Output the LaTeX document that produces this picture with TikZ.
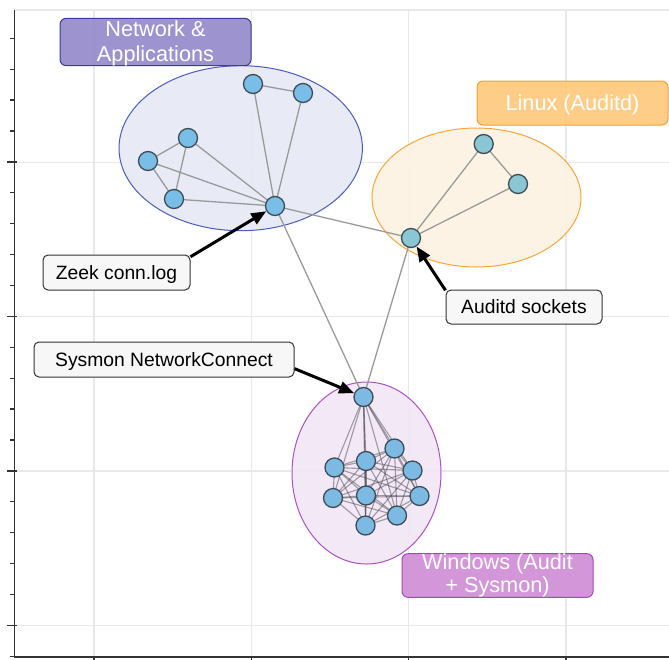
\documentclass[tikz,border=0pt]{standalone}
\usepackage{fontspec}
\setmainfont{Liberation Sans}
\usetikzlibrary{arrows.meta}
\definecolor{gridc}{HTML}{E9E9E9}
\definecolor{spinec}{HTML}{333333}
\definecolor{netell}{HTML}{E6E9F5}
\definecolor{netelld}{HTML}{4A5CC0}
\definecolor{linell}{HTML}{FDF2E2}
\definecolor{linelld}{HTML}{F7A73A}
\definecolor{winell}{HTML}{F2E6F5}
\definecolor{winelld}{HTML}{B050C6}
\definecolor{netlabf}{HTML}{958ACB}
\definecolor{netlabd}{HTML}{3C3C9C}
\definecolor{linlabf}{HTML}{FEC97E}
\definecolor{linlabd}{HTML}{F4A235}
\definecolor{winlabf}{HTML}{D08FD6}
\definecolor{winlabd}{HTML}{A845B8}
\definecolor{nodeb}{HTML}{79BEE6}
\definecolor{nodel}{HTML}{8AC6D3}
\definecolor{nodew}{HTML}{7CBAE3}
\definecolor{noded}{HTML}{3D4D58}
\definecolor{edgec}{HTML}{9A9A9A}
\definecolor{wedgec}{HTML}{4A4A55}
\definecolor{annf}{HTML}{F7F7F7}
\tikzset{
  gridline/.style={draw=gridc, line width=1.3pt},
  spine/.style={draw=spinec, line width=1.3pt},
  vert/.style={circle, minimum size=19pt, inner sep=0pt, draw=noded, line width=1.3pt},
  edge/.style={draw=edgec, line width=1.3pt},
  wedge/.style={draw=wedgec, line width=1.1pt, opacity=0.5},
  lab/.style={rounded corners=6pt, minimum width=191pt, minimum height=44pt, inner sep=0pt,
    align=center, text=white, fill opacity=0.92, text opacity=1, line width=1pt,
    font=\fontsize{21.7}{24.3}\selectfont},
  ann/.style={rounded corners=5pt, fill=annf, draw=spinec, line width=1pt, inner sep=0pt,
    minimum height=35pt, text height=17.5pt, text depth=4pt, font=\fontsize{19.3}{22}\selectfont},
  arr/.style={-{Triangle[length=15pt,width=12pt]}, line width=3pt, black},
}
\begin{document}
\begin{tikzpicture}[x=1pt,y=-1pt]
\useasboundingbox (0,0) rectangle (669,659);
\fill[white] (0,0) rectangle (669,659);
% grid
\draw[gridline] (14.5,10) -- (669,10);
\foreach \x in {94.1,251.5,408.8,566} \draw[gridline] (\x,10) -- (\x,657);
\foreach \y in {162.3,316.7,471,625.7} \draw[gridline] (14.5,\y) -- (669,\y);
% axes
\draw[spine] (14.5,10) -- (14.5,657) -- (669,657);
\foreach \k in {0,...,20}{
  \pgfmathsetmacro{\yy}{38.3+30.9*\k}
  \pgfmathtruncatemacro{\mm}{mod(\k,5)}
  \ifnum\mm=4
    \draw[spine] (7.3,\yy) -- (17,\yy);
  \else
    \draw[spine] (10,\yy) -- (14.5,\yy);
  \fi
}
\foreach \x in {94.1,251.5,408.8,566} \draw[spine] (\x,657) -- (\x,662);
% cluster ellipses
\draw[fill=netell, draw=netelld, line width=1pt, fill opacity=0.9] (240.7,148.2) ellipse [x radius=121.7, y radius=82.5];
\draw[fill=linell, draw=linelld, line width=1pt, fill opacity=0.9] (476.5,197.5) ellipse [x radius=104.5, y radius=69.5];
\draw[fill=winell, draw=winelld, line width=1pt, fill opacity=0.9] (366.5,473) ellipse [x radius=74.5, y radius=91];
% node positions
\coordinate (pn1) at (253,84);
\coordinate (pn2) at (303,93);
\coordinate (pn3) at (188,138);
\coordinate (pn4) at (148,161);
\coordinate (pn5) at (174,199);
\coordinate (phub) at (275,206);
\coordinate (pl1) at (483.7,144);
\coordinate (pl2) at (518,184);
\coordinate (plhub) at (411,238);
\coordinate (pw0) at (363.5,397);
\coordinate (pw1) at (334.5,467.5);
\coordinate (pw2) at (366,461);
\coordinate (pw3) at (394.5,448.5);
\coordinate (pw4) at (412.5,470.5);
\coordinate (pw5) at (333,498);
\coordinate (pw6) at (366,495.5);
\coordinate (pw7) at (419.5,496);
\coordinate (pw8) at (397,515.5);
\coordinate (pw9) at (365.5,525.5);
% windows edges (complete graph)
\foreach \i in {0,...,9}{
  \foreach \j in {0,...,9}{
    \ifnum\i<\j
      \draw[wedge] (pw\i) -- (pw\j);
    \fi
  }
}
% other edges
\foreach \a/\b in {pn1/pn2, pn1/phub, pn2/phub, pn3/pn4, pn3/pn5, pn3/phub, pn4/pn5, pn4/phub, pn5/phub,
  pl1/pl2, pl1/plhub, pl2/plhub, phub/plhub, phub/pw0, plhub/pw0}
  \draw[edge] (\a) -- (\b);
% nodes
\foreach \n in {n1,n2,n3,n4,n5,hub} \node[vert, fill=nodeb] (\n) at (p\n) {};
\foreach \n in {l1,l2,lhub} \node[vert, fill=nodel] (\n) at (p\n) {};
\foreach \n in {w0,w1,w2,w3,w4,w5,w6,w7,w8,w9} \node[vert, fill=nodew] (\n) at (p\n) {};
% cluster labels
\node[lab, fill=netlabf, draw=netlabd, text height=42.6pt, text depth=4.6pt] (netlab) at (155.5,42) {Network \&\\Applications};
\node[lab, fill=linlabf, draw=linlabd, text height=20pt, text depth=4.6pt] (linlab) at (572.5,103) {Linux (Auditd)};
\node[lab, fill=winlabf, draw=winlabd, minimum height=43pt, text height=39pt, text depth=4.6pt,
  font=\fontsize{21.7}{23.6}\selectfont] (winlab) at (497.5,575.5) {Windows (Audit\\+ Sysmon)};
% annotations
\node[ann, minimum width=147pt] (zeek) at (116.5,272.5) {Zeek conn.log};
\node[ann, minimum width=156pt, minimum height=34pt] (auditd) at (524,307) {Auditd sockets};
\node[ann, minimum width=260pt] (sysmon) at (164,359.5) {Sysmon NetworkConnect};
\draw[arr] (zeek.12) -- (hub);
\draw[arr] (auditd.168) -- (lhub);
\draw[arr] (sysmon.-4.6) -- (w0);
\end{tikzpicture}
\end{document}
